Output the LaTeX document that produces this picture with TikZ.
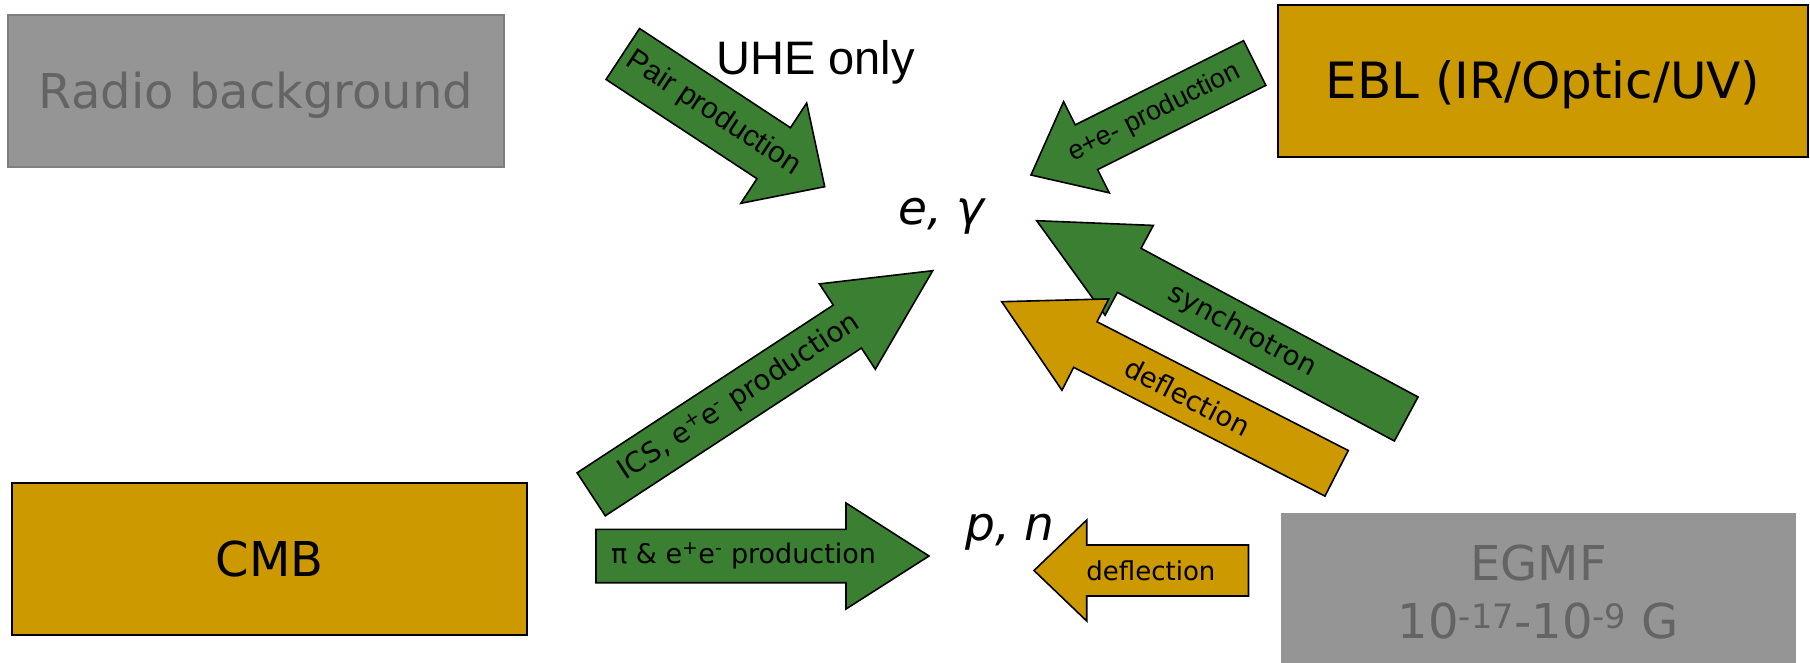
\documentclass[tikz,border=0pt]{standalone}
\usepackage{fontspec}
\setmainfont{DejaVu Sans}
\newfontfamily\arialfont{Liberation Sans}
\usetikzlibrary{calc}
\definecolor{arrgreen}{HTML}{3B8032}
\definecolor{gold}{HTML}{CC9900}
\definecolor{boxgray}{HTML}{959595}
\definecolor{txtgray}{HTML}{646464}
\definecolor{edgegray}{HTML}{7F7F7F}
% #1 name, #2 tail centre, #3 tip, #4 half shaft width, #5 half head width, #6 head length, #7 style
\newcommand\blockarrow[7]{%
  \coordinate (#1-tail) at (#2);
  \coordinate (#1-tip) at (#3);
  \coordinate (#1-base) at ($(#1-tip)!#6pt!(#1-tail)$);
  \draw[#7] ($(#1-tail)!#4pt!90:(#1-tip)$) -- ($(#1-base)!#4pt!90:(#1-tip)$)
    -- ($(#1-base)!#5pt!90:(#1-tip)$) -- (#1-tip)
    -- ($(#1-base)!#5pt!-90:(#1-tip)$) -- ($(#1-base)!#4pt!-90:(#1-tip)$)
    -- ($(#1-tail)!#4pt!-90:(#1-tip)$) -- cycle;
}
\begin{document}
\begin{tikzpicture}[x=1pt,y=-1pt,
  arr/.style={draw=black, line width=1.6pt, line join=miter},
  greenarr/.style={arr, fill=arrgreen},
  goldarr/.style={arr, fill=gold},
  bigbox/.style={rectangle, inner sep=0pt, minimum width=#1, minimum height=152pt,
     text height=35pt, text depth=0pt, font=\fontsize{48}{58}\selectfont},
  goldbox/.style={bigbox=#1, fill=gold, draw=black, line width=2.2pt},
  graybox/.style={bigbox=#1, fill=boxgray, draw=edgegray, line width=1.4pt, text=txtgray},
  lbl/.style={sloped, inner sep=0pt, font=\fontsize{#1}{#1}\selectfont},
  albl/.style={sloped, inner sep=0pt, font=\arialfont\fontsize{#1}{#1}\selectfont},
  particle/.style={anchor=base, inner sep=0pt, font=\itshape\fontsize{47}{56}\selectfont},
]
\useasboundingbox (0,0) rectangle (1810,663);

% boxes
\node[graybox=496pt] (radio) at (256,91) {Radio background};
\node[goldbox=530pt, font=\fontsize{50}{60}\selectfont, text height=36pt] (ebl) at (1543,81) {EBL (IR/Optic/UV)};
\node[goldbox=515pt] (cmb) at (269.5,559) {CMB};
\node[rectangle, fill=boxgray, minimum width=515pt, minimum height=150pt, inner sep=0pt] (egmf) at (1538.5,588) {};
\node[anchor=base, inner sep=0pt, text=txtgray, font=\fontsize{48}{58}\selectfont] (egmf-l1) at (1538.5,580) {EGMF};
\node[anchor=base, inner sep=0pt, text=txtgray, font=\fontsize{48}{58}\selectfont] (egmf-l2) at (1538.5,638) {10\textsuperscript{-17}-10\textsuperscript{-9} G};

% particles
\node[particle] (eg) at (941.5,225) {e, γ};
\node[particle] (pn) at (1010,540) {p, n};
\node[anchor=base, inner sep=0pt, font=\arialfont\fontsize{47}{56}\selectfont] (uhe) at (815.5,75) {UHE only};

% arrows
\blockarrow{pair}{622.8,54}{824.7,186.7}{30.5}{60}{61}{greenarr}
\path (pair-tail) -- (pair-tip) node[pos=.447, albl=30] (pair-label) {Pair production};

\blockarrow{eep}{1254.7,63}{1031,175}{25}{51}{62}{greenarr}
\path (eep-tail) -- (eep-tip) node[pos=.448, albl=27] (eep-label) {e+e- production};

\blockarrow{ics}{591.2,494.3}{932.7,270.7}{25.7}{51}{102}{greenarr}
\path (ics-tail) -- (ics-tip) node[pos=.434, lbl=28] (ics-label) {ICS, e\textsuperscript{+}e\textsuperscript{-} production};

\blockarrow{syn}{1406.2,419}{1036.7,220.7}{25}{51}{105}{greenarr}
\path (syn-tail) -- (syn-tip) node[pos=.444, lbl=27.5] (syn-label) {synchrotron};

\blockarrow{defa}{1336.6,473.3}{1001.7,301.7}{25.6}{51.3}{94}{goldarr}
\path (defa-tail) -- (defa-tip) node[pos=.445, lbl=27.5] (defa-label) {deflection};

\blockarrow{pi}{596,556}{929,556}{26.7}{53}{83}{greenarr}
\path (pi-tail) -- (pi-tip) node[pos=.443, lbl=27] (pi-label) {π \& e\textsuperscript{+}e\textsuperscript{-} production};

\blockarrow{defb}{1248.5,570.5}{1034,570.5}{25.5}{50.5}{52.7}{goldarr}
\path (defb-tail) -- (defb-tip) node[pos=.455, lbl=26] (defb-label) {deflection};
\end{tikzpicture}
\end{document}
